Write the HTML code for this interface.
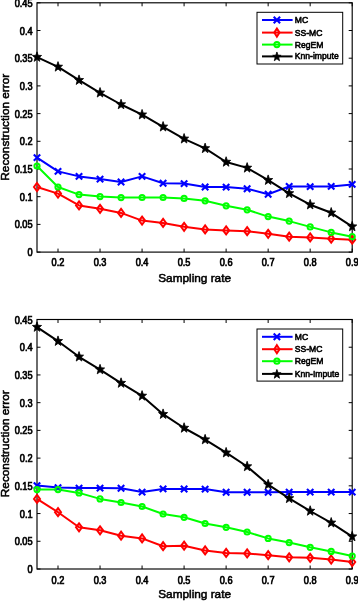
<!DOCTYPE html>
<html><head><meta charset="utf-8"><style>
html,body{margin:0;padding:0;background:#fff;}
body{width:358px;height:601px;overflow:hidden;}
svg{display:block;will-change:transform;}
text{font-family:"Liberation Sans",sans-serif;fill:#000;}
.tk{font-size:9.4px;font-weight:normal;stroke:#000;stroke-width:0.65px;}
.lab{font-size:11.8px;stroke:#000;stroke-width:0.55px;}
.leg{font-size:8.6px;font-weight:normal;stroke:#000;stroke-width:0.55px;}
</style></head><body>
<svg width="358" height="601" viewBox="0 0 358 601">
<rect width="358" height="601" fill="#fff"/>
<line x1="37.00" y1="252.10" x2="40.50" y2="252.10" stroke="#000" stroke-width="1"/>
<line x1="348.70" y1="252.10" x2="352.20" y2="252.10" stroke="#000" stroke-width="1"/>
<text transform="translate(32.60 256.10) scale(0.980 1.080)" text-anchor="end" class="tk">0</text>
<line x1="37.00" y1="224.40" x2="40.50" y2="224.40" stroke="#000" stroke-width="1"/>
<line x1="348.70" y1="224.40" x2="352.20" y2="224.40" stroke="#000" stroke-width="1"/>
<text transform="translate(32.60 228.40) scale(0.980 1.080)" text-anchor="end" class="tk">0.05</text>
<line x1="37.00" y1="196.70" x2="40.50" y2="196.70" stroke="#000" stroke-width="1"/>
<line x1="348.70" y1="196.70" x2="352.20" y2="196.70" stroke="#000" stroke-width="1"/>
<text transform="translate(32.60 200.70) scale(0.980 1.080)" text-anchor="end" class="tk">0.1</text>
<line x1="37.00" y1="169.00" x2="40.50" y2="169.00" stroke="#000" stroke-width="1"/>
<line x1="348.70" y1="169.00" x2="352.20" y2="169.00" stroke="#000" stroke-width="1"/>
<text transform="translate(32.60 173.00) scale(0.980 1.080)" text-anchor="end" class="tk">0.15</text>
<line x1="37.00" y1="141.30" x2="40.50" y2="141.30" stroke="#000" stroke-width="1"/>
<line x1="348.70" y1="141.30" x2="352.20" y2="141.30" stroke="#000" stroke-width="1"/>
<text transform="translate(32.60 145.30) scale(0.980 1.080)" text-anchor="end" class="tk">0.2</text>
<line x1="37.00" y1="113.60" x2="40.50" y2="113.60" stroke="#000" stroke-width="1"/>
<line x1="348.70" y1="113.60" x2="352.20" y2="113.60" stroke="#000" stroke-width="1"/>
<text transform="translate(32.60 117.60) scale(0.980 1.080)" text-anchor="end" class="tk">0.25</text>
<line x1="37.00" y1="85.90" x2="40.50" y2="85.90" stroke="#000" stroke-width="1"/>
<line x1="348.70" y1="85.90" x2="352.20" y2="85.90" stroke="#000" stroke-width="1"/>
<text transform="translate(32.60 89.90) scale(0.980 1.080)" text-anchor="end" class="tk">0.3</text>
<line x1="37.00" y1="58.20" x2="40.50" y2="58.20" stroke="#000" stroke-width="1"/>
<line x1="348.70" y1="58.20" x2="352.20" y2="58.20" stroke="#000" stroke-width="1"/>
<text transform="translate(32.60 62.20) scale(0.980 1.080)" text-anchor="end" class="tk">0.35</text>
<line x1="37.00" y1="30.50" x2="40.50" y2="30.50" stroke="#000" stroke-width="1"/>
<line x1="348.70" y1="30.50" x2="352.20" y2="30.50" stroke="#000" stroke-width="1"/>
<text transform="translate(32.60 34.50) scale(0.980 1.080)" text-anchor="end" class="tk">0.4</text>
<line x1="37.00" y1="2.80" x2="40.50" y2="2.80" stroke="#000" stroke-width="1"/>
<line x1="348.70" y1="2.80" x2="352.20" y2="2.80" stroke="#000" stroke-width="1"/>
<text transform="translate(32.60 6.80) scale(0.980 1.080)" text-anchor="end" class="tk">0.45</text>
<line x1="58.01" y1="252.10" x2="58.01" y2="248.60" stroke="#000" stroke-width="1"/>
<line x1="58.01" y1="2.80" x2="58.01" y2="6.30" stroke="#000" stroke-width="1"/>
<text transform="translate(58.01 266.40) scale(0.980 1.080)" text-anchor="middle" class="tk">0.2</text>
<line x1="100.04" y1="252.10" x2="100.04" y2="248.60" stroke="#000" stroke-width="1"/>
<line x1="100.04" y1="2.80" x2="100.04" y2="6.30" stroke="#000" stroke-width="1"/>
<text transform="translate(100.04 266.40) scale(0.980 1.080)" text-anchor="middle" class="tk">0.3</text>
<line x1="142.07" y1="252.10" x2="142.07" y2="248.60" stroke="#000" stroke-width="1"/>
<line x1="142.07" y1="2.80" x2="142.07" y2="6.30" stroke="#000" stroke-width="1"/>
<text transform="translate(142.07 266.40) scale(0.980 1.080)" text-anchor="middle" class="tk">0.4</text>
<line x1="184.09" y1="252.10" x2="184.09" y2="248.60" stroke="#000" stroke-width="1"/>
<line x1="184.09" y1="2.80" x2="184.09" y2="6.30" stroke="#000" stroke-width="1"/>
<text transform="translate(184.09 266.40) scale(0.980 1.080)" text-anchor="middle" class="tk">0.5</text>
<line x1="226.12" y1="252.10" x2="226.12" y2="248.60" stroke="#000" stroke-width="1"/>
<line x1="226.12" y1="2.80" x2="226.12" y2="6.30" stroke="#000" stroke-width="1"/>
<text transform="translate(226.12 266.40) scale(0.980 1.080)" text-anchor="middle" class="tk">0.6</text>
<line x1="268.15" y1="252.10" x2="268.15" y2="248.60" stroke="#000" stroke-width="1"/>
<line x1="268.15" y1="2.80" x2="268.15" y2="6.30" stroke="#000" stroke-width="1"/>
<text transform="translate(268.15 266.40) scale(0.980 1.080)" text-anchor="middle" class="tk">0.7</text>
<line x1="310.17" y1="252.10" x2="310.17" y2="248.60" stroke="#000" stroke-width="1"/>
<line x1="310.17" y1="2.80" x2="310.17" y2="6.30" stroke="#000" stroke-width="1"/>
<text transform="translate(310.17 266.40) scale(0.980 1.080)" text-anchor="middle" class="tk">0.8</text>
<line x1="352.20" y1="252.10" x2="352.20" y2="248.60" stroke="#000" stroke-width="1"/>
<line x1="352.20" y1="2.80" x2="352.20" y2="6.30" stroke="#000" stroke-width="1"/>
<text transform="translate(352.20 266.40) scale(0.980 1.080)" text-anchor="middle" class="tk">0.9</text>
<rect x="37.00" y="2.80" width="315.20" height="249.30" fill="none" stroke="#000" stroke-width="1.15"/>
<text transform="translate(194.60 281.60)" text-anchor="middle" class="lab">Sampling rate</text>
<text transform="translate(9.00 127.25) rotate(-90)" text-anchor="middle" class="lab">Reconstruction error</text>
<polyline points="37.00,157.60 58.01,171.40 79.03,176.40 100.04,179.10 121.05,182.00 142.07,176.40 163.08,183.20 184.09,183.60 205.11,187.00 226.12,187.10 247.13,188.80 268.15,194.20 289.16,186.40 310.17,186.60 331.19,186.40 352.20,184.40" stroke="#0000ff" stroke-width="2.00" fill="none" stroke-linejoin="round"/>
<polyline points="37.00,187.00 58.01,193.60 79.03,205.40 100.04,208.80 121.05,212.90 142.07,220.60 163.08,222.90 184.09,226.80 205.11,229.40 226.12,230.40 247.13,231.20 268.15,233.80 289.16,236.70 310.17,237.40 331.19,238.70 352.20,239.70" stroke="#ff0000" stroke-width="2.00" fill="none" stroke-linejoin="round"/>
<polyline points="37.00,166.00 58.01,187.00 79.03,194.60 100.04,196.60 121.05,197.60 142.07,197.50 163.08,197.50 184.09,198.40 205.11,200.80 226.12,205.80 247.13,209.80 268.15,216.60 289.16,221.10 310.17,226.90 331.19,232.40 352.20,236.70" stroke="#00ff00" stroke-width="2.00" fill="none" stroke-linejoin="round"/>
<polyline points="37.00,57.10 58.01,66.90 79.03,80.20 100.04,92.80 121.05,104.50 142.07,114.70 163.08,126.80 184.09,138.80 205.11,148.40 226.12,162.00 247.13,167.90 268.15,180.20 289.16,193.40 310.17,204.70 331.19,212.80 352.20,226.60" stroke="#000000" stroke-width="2.00" fill="none" stroke-linejoin="round"/>
<path d="M33.80 154.40L40.20 160.80M33.80 160.80L40.20 154.40" stroke="#0000ff" stroke-width="2.10" fill="none"/>
<path d="M54.81 168.20L61.21 174.60M54.81 174.60L61.21 168.20" stroke="#0000ff" stroke-width="2.10" fill="none"/>
<path d="M75.83 173.20L82.23 179.60M75.83 179.60L82.23 173.20" stroke="#0000ff" stroke-width="2.10" fill="none"/>
<path d="M96.84 175.90L103.24 182.30M96.84 182.30L103.24 175.90" stroke="#0000ff" stroke-width="2.10" fill="none"/>
<path d="M117.85 178.80L124.25 185.20M117.85 185.20L124.25 178.80" stroke="#0000ff" stroke-width="2.10" fill="none"/>
<path d="M138.87 173.20L145.27 179.60M138.87 179.60L145.27 173.20" stroke="#0000ff" stroke-width="2.10" fill="none"/>
<path d="M159.88 180.00L166.28 186.40M159.88 186.40L166.28 180.00" stroke="#0000ff" stroke-width="2.10" fill="none"/>
<path d="M180.89 180.40L187.29 186.80M180.89 186.80L187.29 180.40" stroke="#0000ff" stroke-width="2.10" fill="none"/>
<path d="M201.91 183.80L208.31 190.20M201.91 190.20L208.31 183.80" stroke="#0000ff" stroke-width="2.10" fill="none"/>
<path d="M222.92 183.90L229.32 190.30M222.92 190.30L229.32 183.90" stroke="#0000ff" stroke-width="2.10" fill="none"/>
<path d="M243.93 185.60L250.33 192.00M243.93 192.00L250.33 185.60" stroke="#0000ff" stroke-width="2.10" fill="none"/>
<path d="M264.95 191.00L271.35 197.40M264.95 197.40L271.35 191.00" stroke="#0000ff" stroke-width="2.10" fill="none"/>
<path d="M285.96 183.20L292.36 189.60M285.96 189.60L292.36 183.20" stroke="#0000ff" stroke-width="2.10" fill="none"/>
<path d="M306.97 183.40L313.37 189.80M306.97 189.80L313.37 183.40" stroke="#0000ff" stroke-width="2.10" fill="none"/>
<path d="M327.99 183.20L334.39 189.60M327.99 189.60L334.39 183.20" stroke="#0000ff" stroke-width="2.10" fill="none"/>
<path d="M349.00 181.20L355.40 187.60M349.00 187.60L355.40 181.20" stroke="#0000ff" stroke-width="2.10" fill="none"/>
<path d="M37.00 183.00L40.00 187.00L37.00 191.00L34.00 187.00Z" stroke="#ff0000" stroke-width="2.00" fill="none"/>
<path d="M58.01 189.60L61.01 193.60L58.01 197.60L55.01 193.60Z" stroke="#ff0000" stroke-width="2.00" fill="none"/>
<path d="M79.03 201.40L82.03 205.40L79.03 209.40L76.03 205.40Z" stroke="#ff0000" stroke-width="2.00" fill="none"/>
<path d="M100.04 204.80L103.04 208.80L100.04 212.80L97.04 208.80Z" stroke="#ff0000" stroke-width="2.00" fill="none"/>
<path d="M121.05 208.90L124.05 212.90L121.05 216.90L118.05 212.90Z" stroke="#ff0000" stroke-width="2.00" fill="none"/>
<path d="M142.07 216.60L145.07 220.60L142.07 224.60L139.07 220.60Z" stroke="#ff0000" stroke-width="2.00" fill="none"/>
<path d="M163.08 218.90L166.08 222.90L163.08 226.90L160.08 222.90Z" stroke="#ff0000" stroke-width="2.00" fill="none"/>
<path d="M184.09 222.80L187.09 226.80L184.09 230.80L181.09 226.80Z" stroke="#ff0000" stroke-width="2.00" fill="none"/>
<path d="M205.11 225.40L208.11 229.40L205.11 233.40L202.11 229.40Z" stroke="#ff0000" stroke-width="2.00" fill="none"/>
<path d="M226.12 226.40L229.12 230.40L226.12 234.40L223.12 230.40Z" stroke="#ff0000" stroke-width="2.00" fill="none"/>
<path d="M247.13 227.20L250.13 231.20L247.13 235.20L244.13 231.20Z" stroke="#ff0000" stroke-width="2.00" fill="none"/>
<path d="M268.15 229.80L271.15 233.80L268.15 237.80L265.15 233.80Z" stroke="#ff0000" stroke-width="2.00" fill="none"/>
<path d="M289.16 232.70L292.16 236.70L289.16 240.70L286.16 236.70Z" stroke="#ff0000" stroke-width="2.00" fill="none"/>
<path d="M310.17 233.40L313.17 237.40L310.17 241.40L307.17 237.40Z" stroke="#ff0000" stroke-width="2.00" fill="none"/>
<path d="M331.19 234.70L334.19 238.70L331.19 242.70L328.19 238.70Z" stroke="#ff0000" stroke-width="2.00" fill="none"/>
<path d="M352.20 235.70L355.20 239.70L352.20 243.70L349.20 239.70Z" stroke="#ff0000" stroke-width="2.00" fill="none"/>
<circle cx="37.00" cy="166.00" r="2.60" stroke="#00ff00" stroke-width="2.00" fill="none"/>
<circle cx="58.01" cy="187.00" r="2.60" stroke="#00ff00" stroke-width="2.00" fill="none"/>
<circle cx="79.03" cy="194.60" r="2.60" stroke="#00ff00" stroke-width="2.00" fill="none"/>
<circle cx="100.04" cy="196.60" r="2.60" stroke="#00ff00" stroke-width="2.00" fill="none"/>
<circle cx="121.05" cy="197.60" r="2.60" stroke="#00ff00" stroke-width="2.00" fill="none"/>
<circle cx="142.07" cy="197.50" r="2.60" stroke="#00ff00" stroke-width="2.00" fill="none"/>
<circle cx="163.08" cy="197.50" r="2.60" stroke="#00ff00" stroke-width="2.00" fill="none"/>
<circle cx="184.09" cy="198.40" r="2.60" stroke="#00ff00" stroke-width="2.00" fill="none"/>
<circle cx="205.11" cy="200.80" r="2.60" stroke="#00ff00" stroke-width="2.00" fill="none"/>
<circle cx="226.12" cy="205.80" r="2.60" stroke="#00ff00" stroke-width="2.00" fill="none"/>
<circle cx="247.13" cy="209.80" r="2.60" stroke="#00ff00" stroke-width="2.00" fill="none"/>
<circle cx="268.15" cy="216.60" r="2.60" stroke="#00ff00" stroke-width="2.00" fill="none"/>
<circle cx="289.16" cy="221.10" r="2.60" stroke="#00ff00" stroke-width="2.00" fill="none"/>
<circle cx="310.17" cy="226.90" r="2.60" stroke="#00ff00" stroke-width="2.00" fill="none"/>
<circle cx="331.19" cy="232.40" r="2.60" stroke="#00ff00" stroke-width="2.00" fill="none"/>
<circle cx="352.20" cy="236.70" r="2.60" stroke="#00ff00" stroke-width="2.00" fill="none"/>
<polygon points="37.00,51.82 38.18,55.31 41.57,55.47 38.92,57.79 39.82,61.37 37.00,59.32 34.18,61.37 35.08,57.79 32.43,55.47 35.82,55.31" fill="#000" stroke="#000" stroke-width="0.8" stroke-linejoin="miter"/>
<polygon points="58.01,61.62 59.20,65.11 62.58,65.27 59.93,67.59 60.83,71.17 58.01,69.12 55.19,71.17 56.10,67.59 53.45,65.27 56.83,65.11" fill="#000" stroke="#000" stroke-width="0.8" stroke-linejoin="miter"/>
<polygon points="79.03,74.92 80.21,78.41 83.59,78.57 80.94,80.89 81.85,84.47 79.03,82.42 76.21,84.47 77.11,80.89 74.46,78.57 77.84,78.41" fill="#000" stroke="#000" stroke-width="0.8" stroke-linejoin="miter"/>
<polygon points="100.04,87.52 101.22,91.01 104.61,91.17 101.96,93.49 102.86,97.07 100.04,95.02 97.22,97.07 98.12,93.49 95.47,91.17 98.86,91.01" fill="#000" stroke="#000" stroke-width="0.8" stroke-linejoin="miter"/>
<polygon points="121.05,99.22 122.24,102.71 125.62,102.87 122.97,105.19 123.87,108.77 121.05,106.72 118.23,108.77 119.14,105.19 116.49,102.87 119.87,102.71" fill="#000" stroke="#000" stroke-width="0.8" stroke-linejoin="miter"/>
<polygon points="142.07,109.42 143.25,112.91 146.63,113.07 143.98,115.39 144.89,118.97 142.07,116.92 139.25,118.97 140.15,115.39 137.50,113.07 140.88,112.91" fill="#000" stroke="#000" stroke-width="0.8" stroke-linejoin="miter"/>
<polygon points="163.08,121.52 164.26,125.01 167.65,125.17 165.00,127.49 165.90,131.07 163.08,129.02 160.26,131.07 161.16,127.49 158.51,125.17 161.90,125.01" fill="#000" stroke="#000" stroke-width="0.8" stroke-linejoin="miter"/>
<polygon points="184.09,133.52 185.28,137.01 188.66,137.17 186.01,139.49 186.91,143.07 184.09,141.02 181.27,143.07 182.18,139.49 179.53,137.17 182.91,137.01" fill="#000" stroke="#000" stroke-width="0.8" stroke-linejoin="miter"/>
<polygon points="205.11,143.12 206.29,146.61 209.67,146.77 207.02,149.09 207.93,152.67 205.11,150.62 202.29,152.67 203.19,149.09 200.54,146.77 203.92,146.61" fill="#000" stroke="#000" stroke-width="0.8" stroke-linejoin="miter"/>
<polygon points="226.12,156.72 227.30,160.21 230.69,160.37 228.04,162.69 228.94,166.27 226.12,164.22 223.30,166.27 224.20,162.69 221.55,160.37 224.94,160.21" fill="#000" stroke="#000" stroke-width="0.8" stroke-linejoin="miter"/>
<polygon points="247.13,162.62 248.32,166.11 251.70,166.27 249.05,168.59 249.95,172.17 247.13,170.12 244.31,172.17 245.22,168.59 242.57,166.27 245.95,166.11" fill="#000" stroke="#000" stroke-width="0.8" stroke-linejoin="miter"/>
<polygon points="268.15,174.92 269.33,178.41 272.71,178.57 270.06,180.89 270.97,184.47 268.15,182.42 265.33,184.47 266.23,180.89 263.58,178.57 266.96,178.41" fill="#000" stroke="#000" stroke-width="0.8" stroke-linejoin="miter"/>
<polygon points="289.16,188.12 290.34,191.61 293.73,191.77 291.08,194.09 291.98,197.67 289.16,195.62 286.34,197.67 287.24,194.09 284.59,191.77 287.98,191.61" fill="#000" stroke="#000" stroke-width="0.8" stroke-linejoin="miter"/>
<polygon points="310.17,199.42 311.36,202.91 314.74,203.07 312.09,205.39 312.99,208.97 310.17,206.92 307.35,208.97 308.26,205.39 305.61,203.07 308.99,202.91" fill="#000" stroke="#000" stroke-width="0.8" stroke-linejoin="miter"/>
<polygon points="331.19,207.52 332.37,211.01 335.75,211.17 333.10,213.49 334.01,217.07 331.19,215.02 328.37,217.07 329.27,213.49 326.62,211.17 330.00,211.01" fill="#000" stroke="#000" stroke-width="0.8" stroke-linejoin="miter"/>
<polygon points="352.20,221.32 353.38,224.81 356.77,224.97 354.12,227.29 355.02,230.87 352.20,228.82 349.38,230.87 350.28,227.29 347.63,224.97 351.02,224.81" fill="#000" stroke="#000" stroke-width="0.8" stroke-linejoin="miter"/>
<rect x="257.00" y="12.30" width="85.70" height="51.70" fill="#fff" stroke="#000" stroke-width="1"/>
<line x1="262" y1="20.00" x2="292.6" y2="20.00" stroke="#0000ff" stroke-width="2.00"/>
<path d="M273.70 16.80L280.10 23.20M273.70 23.20L280.10 16.80" stroke="#0000ff" stroke-width="2.10" fill="none"/>
<text transform="translate(294.80 23.00) scale(1.000 1.100)" class="leg">MC</text>
<line x1="262" y1="32.60" x2="292.6" y2="32.60" stroke="#ff0000" stroke-width="2.00"/>
<path d="M276.90 28.60L279.50 32.60L276.90 36.60L274.30 32.60Z" stroke="#ff0000" stroke-width="2.00" fill="none"/>
<text transform="translate(294.80 35.60) scale(1.000 1.100)" class="leg">SS-MC</text>
<line x1="262" y1="44.60" x2="292.6" y2="44.60" stroke="#00ff00" stroke-width="2.00"/>
<circle cx="276.90" cy="44.60" r="2.60" stroke="#00ff00" stroke-width="2.00" fill="none"/>
<text transform="translate(294.80 47.60) scale(1.000 1.100)" class="leg">RegEM</text>
<line x1="262" y1="56.40" x2="292.6" y2="56.40" stroke="#000000" stroke-width="2.00"/>
<polygon points="276.90,51.96 277.99,55.16 281.08,55.30 278.66,57.43 279.49,60.72 276.90,58.83 274.31,60.72 275.14,57.43 272.72,55.30 275.81,55.16" fill="#000" stroke="#000" stroke-width="0.8" stroke-linejoin="miter"/>
<text transform="translate(294.80 59.40) scale(1.000 1.100)" class="leg">Knn-impute</text>
<line x1="37.00" y1="569.00" x2="40.50" y2="569.00" stroke="#000" stroke-width="1"/>
<line x1="348.70" y1="569.00" x2="352.20" y2="569.00" stroke="#000" stroke-width="1"/>
<text transform="translate(32.60 573.00) scale(0.980 1.080)" text-anchor="end" class="tk">0</text>
<line x1="37.00" y1="541.28" x2="40.50" y2="541.28" stroke="#000" stroke-width="1"/>
<line x1="348.70" y1="541.28" x2="352.20" y2="541.28" stroke="#000" stroke-width="1"/>
<text transform="translate(32.60 545.28) scale(0.980 1.080)" text-anchor="end" class="tk">0.05</text>
<line x1="37.00" y1="513.56" x2="40.50" y2="513.56" stroke="#000" stroke-width="1"/>
<line x1="348.70" y1="513.56" x2="352.20" y2="513.56" stroke="#000" stroke-width="1"/>
<text transform="translate(32.60 517.56) scale(0.980 1.080)" text-anchor="end" class="tk">0.1</text>
<line x1="37.00" y1="485.83" x2="40.50" y2="485.83" stroke="#000" stroke-width="1"/>
<line x1="348.70" y1="485.83" x2="352.20" y2="485.83" stroke="#000" stroke-width="1"/>
<text transform="translate(32.60 489.83) scale(0.980 1.080)" text-anchor="end" class="tk">0.15</text>
<line x1="37.00" y1="458.11" x2="40.50" y2="458.11" stroke="#000" stroke-width="1"/>
<line x1="348.70" y1="458.11" x2="352.20" y2="458.11" stroke="#000" stroke-width="1"/>
<text transform="translate(32.60 462.11) scale(0.980 1.080)" text-anchor="end" class="tk">0.2</text>
<line x1="37.00" y1="430.39" x2="40.50" y2="430.39" stroke="#000" stroke-width="1"/>
<line x1="348.70" y1="430.39" x2="352.20" y2="430.39" stroke="#000" stroke-width="1"/>
<text transform="translate(32.60 434.39) scale(0.980 1.080)" text-anchor="end" class="tk">0.25</text>
<line x1="37.00" y1="402.67" x2="40.50" y2="402.67" stroke="#000" stroke-width="1"/>
<line x1="348.70" y1="402.67" x2="352.20" y2="402.67" stroke="#000" stroke-width="1"/>
<text transform="translate(32.60 406.67) scale(0.980 1.080)" text-anchor="end" class="tk">0.3</text>
<line x1="37.00" y1="374.94" x2="40.50" y2="374.94" stroke="#000" stroke-width="1"/>
<line x1="348.70" y1="374.94" x2="352.20" y2="374.94" stroke="#000" stroke-width="1"/>
<text transform="translate(32.60 378.94) scale(0.980 1.080)" text-anchor="end" class="tk">0.35</text>
<line x1="37.00" y1="347.22" x2="40.50" y2="347.22" stroke="#000" stroke-width="1"/>
<line x1="348.70" y1="347.22" x2="352.20" y2="347.22" stroke="#000" stroke-width="1"/>
<text transform="translate(32.60 351.22) scale(0.980 1.080)" text-anchor="end" class="tk">0.4</text>
<line x1="37.00" y1="319.50" x2="40.50" y2="319.50" stroke="#000" stroke-width="1"/>
<line x1="348.70" y1="319.50" x2="352.20" y2="319.50" stroke="#000" stroke-width="1"/>
<text transform="translate(32.60 323.50) scale(0.980 1.080)" text-anchor="end" class="tk">0.45</text>
<line x1="58.01" y1="569.00" x2="58.01" y2="565.50" stroke="#000" stroke-width="1"/>
<line x1="58.01" y1="319.50" x2="58.01" y2="323.00" stroke="#000" stroke-width="1"/>
<text transform="translate(58.01 583.80) scale(0.980 1.080)" text-anchor="middle" class="tk">0.2</text>
<line x1="100.04" y1="569.00" x2="100.04" y2="565.50" stroke="#000" stroke-width="1"/>
<line x1="100.04" y1="319.50" x2="100.04" y2="323.00" stroke="#000" stroke-width="1"/>
<text transform="translate(100.04 583.80) scale(0.980 1.080)" text-anchor="middle" class="tk">0.3</text>
<line x1="142.07" y1="569.00" x2="142.07" y2="565.50" stroke="#000" stroke-width="1"/>
<line x1="142.07" y1="319.50" x2="142.07" y2="323.00" stroke="#000" stroke-width="1"/>
<text transform="translate(142.07 583.80) scale(0.980 1.080)" text-anchor="middle" class="tk">0.4</text>
<line x1="184.09" y1="569.00" x2="184.09" y2="565.50" stroke="#000" stroke-width="1"/>
<line x1="184.09" y1="319.50" x2="184.09" y2="323.00" stroke="#000" stroke-width="1"/>
<text transform="translate(184.09 583.80) scale(0.980 1.080)" text-anchor="middle" class="tk">0.5</text>
<line x1="226.12" y1="569.00" x2="226.12" y2="565.50" stroke="#000" stroke-width="1"/>
<line x1="226.12" y1="319.50" x2="226.12" y2="323.00" stroke="#000" stroke-width="1"/>
<text transform="translate(226.12 583.80) scale(0.980 1.080)" text-anchor="middle" class="tk">0.6</text>
<line x1="268.15" y1="569.00" x2="268.15" y2="565.50" stroke="#000" stroke-width="1"/>
<line x1="268.15" y1="319.50" x2="268.15" y2="323.00" stroke="#000" stroke-width="1"/>
<text transform="translate(268.15 583.80) scale(0.980 1.080)" text-anchor="middle" class="tk">0.7</text>
<line x1="310.17" y1="569.00" x2="310.17" y2="565.50" stroke="#000" stroke-width="1"/>
<line x1="310.17" y1="319.50" x2="310.17" y2="323.00" stroke="#000" stroke-width="1"/>
<text transform="translate(310.17 583.80) scale(0.980 1.080)" text-anchor="middle" class="tk">0.8</text>
<line x1="352.20" y1="569.00" x2="352.20" y2="565.50" stroke="#000" stroke-width="1"/>
<line x1="352.20" y1="319.50" x2="352.20" y2="323.00" stroke="#000" stroke-width="1"/>
<text transform="translate(352.20 583.80) scale(0.980 1.080)" text-anchor="middle" class="tk">0.9</text>
<rect x="37.00" y="319.50" width="315.20" height="249.50" fill="none" stroke="#000" stroke-width="1.15"/>
<text transform="translate(194.60 598.30)" text-anchor="middle" class="lab">Sampling rate</text>
<text transform="translate(9.00 443.75) rotate(-90)" text-anchor="middle" class="lab">Reconstruction error</text>
<polyline points="37.00,485.60 58.01,487.60 79.03,488.10 100.04,488.10 121.05,488.30 142.07,492.10 163.08,488.90 184.09,489.00 205.11,489.10 226.12,492.20 247.13,492.20 268.15,492.20 289.16,492.10 310.17,492.10 331.19,492.10 352.20,492.10" stroke="#0000ff" stroke-width="2.00" fill="none" stroke-linejoin="round"/>
<polyline points="37.00,498.90 58.01,512.20 79.03,527.30 100.04,530.30 121.05,535.70 142.07,538.40 163.08,546.20 184.09,545.70 205.11,550.40 226.12,552.90 247.13,553.40 268.15,555.20 289.16,557.30 310.17,557.80 331.19,559.50 352.20,562.00" stroke="#ff0000" stroke-width="2.00" fill="none" stroke-linejoin="round"/>
<polyline points="37.00,489.60 58.01,489.60 79.03,492.90 100.04,498.90 121.05,502.50 142.07,506.50 163.08,514.00 184.09,517.30 205.11,523.50 226.12,527.30 247.13,532.00 268.15,538.40 289.16,542.60 310.17,547.30 331.19,551.40 352.20,556.10" stroke="#00ff00" stroke-width="2.00" fill="none" stroke-linejoin="round"/>
<polyline points="37.00,327.10 58.01,341.20 79.03,356.80 100.04,369.60 121.05,383.10 142.07,395.90 163.08,414.20 184.09,428.00 205.11,439.60 226.12,452.70 247.13,466.50 268.15,484.60 289.16,498.40 310.17,511.00 331.19,522.80 352.20,536.60" stroke="#000000" stroke-width="2.00" fill="none" stroke-linejoin="round"/>
<path d="M33.80 482.40L40.20 488.80M33.80 488.80L40.20 482.40" stroke="#0000ff" stroke-width="2.10" fill="none"/>
<path d="M54.81 484.40L61.21 490.80M54.81 490.80L61.21 484.40" stroke="#0000ff" stroke-width="2.10" fill="none"/>
<path d="M75.83 484.90L82.23 491.30M75.83 491.30L82.23 484.90" stroke="#0000ff" stroke-width="2.10" fill="none"/>
<path d="M96.84 484.90L103.24 491.30M96.84 491.30L103.24 484.90" stroke="#0000ff" stroke-width="2.10" fill="none"/>
<path d="M117.85 485.10L124.25 491.50M117.85 491.50L124.25 485.10" stroke="#0000ff" stroke-width="2.10" fill="none"/>
<path d="M138.87 488.90L145.27 495.30M138.87 495.30L145.27 488.90" stroke="#0000ff" stroke-width="2.10" fill="none"/>
<path d="M159.88 485.70L166.28 492.10M159.88 492.10L166.28 485.70" stroke="#0000ff" stroke-width="2.10" fill="none"/>
<path d="M180.89 485.80L187.29 492.20M180.89 492.20L187.29 485.80" stroke="#0000ff" stroke-width="2.10" fill="none"/>
<path d="M201.91 485.90L208.31 492.30M201.91 492.30L208.31 485.90" stroke="#0000ff" stroke-width="2.10" fill="none"/>
<path d="M222.92 489.00L229.32 495.40M222.92 495.40L229.32 489.00" stroke="#0000ff" stroke-width="2.10" fill="none"/>
<path d="M243.93 489.00L250.33 495.40M243.93 495.40L250.33 489.00" stroke="#0000ff" stroke-width="2.10" fill="none"/>
<path d="M264.95 489.00L271.35 495.40M264.95 495.40L271.35 489.00" stroke="#0000ff" stroke-width="2.10" fill="none"/>
<path d="M285.96 488.90L292.36 495.30M285.96 495.30L292.36 488.90" stroke="#0000ff" stroke-width="2.10" fill="none"/>
<path d="M306.97 488.90L313.37 495.30M306.97 495.30L313.37 488.90" stroke="#0000ff" stroke-width="2.10" fill="none"/>
<path d="M327.99 488.90L334.39 495.30M327.99 495.30L334.39 488.90" stroke="#0000ff" stroke-width="2.10" fill="none"/>
<path d="M349.00 488.90L355.40 495.30M349.00 495.30L355.40 488.90" stroke="#0000ff" stroke-width="2.10" fill="none"/>
<path d="M37.00 494.90L40.00 498.90L37.00 502.90L34.00 498.90Z" stroke="#ff0000" stroke-width="2.00" fill="none"/>
<path d="M58.01 508.20L61.01 512.20L58.01 516.20L55.01 512.20Z" stroke="#ff0000" stroke-width="2.00" fill="none"/>
<path d="M79.03 523.30L82.03 527.30L79.03 531.30L76.03 527.30Z" stroke="#ff0000" stroke-width="2.00" fill="none"/>
<path d="M100.04 526.30L103.04 530.30L100.04 534.30L97.04 530.30Z" stroke="#ff0000" stroke-width="2.00" fill="none"/>
<path d="M121.05 531.70L124.05 535.70L121.05 539.70L118.05 535.70Z" stroke="#ff0000" stroke-width="2.00" fill="none"/>
<path d="M142.07 534.40L145.07 538.40L142.07 542.40L139.07 538.40Z" stroke="#ff0000" stroke-width="2.00" fill="none"/>
<path d="M163.08 542.20L166.08 546.20L163.08 550.20L160.08 546.20Z" stroke="#ff0000" stroke-width="2.00" fill="none"/>
<path d="M184.09 541.70L187.09 545.70L184.09 549.70L181.09 545.70Z" stroke="#ff0000" stroke-width="2.00" fill="none"/>
<path d="M205.11 546.40L208.11 550.40L205.11 554.40L202.11 550.40Z" stroke="#ff0000" stroke-width="2.00" fill="none"/>
<path d="M226.12 548.90L229.12 552.90L226.12 556.90L223.12 552.90Z" stroke="#ff0000" stroke-width="2.00" fill="none"/>
<path d="M247.13 549.40L250.13 553.40L247.13 557.40L244.13 553.40Z" stroke="#ff0000" stroke-width="2.00" fill="none"/>
<path d="M268.15 551.20L271.15 555.20L268.15 559.20L265.15 555.20Z" stroke="#ff0000" stroke-width="2.00" fill="none"/>
<path d="M289.16 553.30L292.16 557.30L289.16 561.30L286.16 557.30Z" stroke="#ff0000" stroke-width="2.00" fill="none"/>
<path d="M310.17 553.80L313.17 557.80L310.17 561.80L307.17 557.80Z" stroke="#ff0000" stroke-width="2.00" fill="none"/>
<path d="M331.19 555.50L334.19 559.50L331.19 563.50L328.19 559.50Z" stroke="#ff0000" stroke-width="2.00" fill="none"/>
<path d="M352.20 558.00L355.20 562.00L352.20 566.00L349.20 562.00Z" stroke="#ff0000" stroke-width="2.00" fill="none"/>
<circle cx="37.00" cy="489.60" r="2.60" stroke="#00ff00" stroke-width="2.00" fill="none"/>
<circle cx="58.01" cy="489.60" r="2.60" stroke="#00ff00" stroke-width="2.00" fill="none"/>
<circle cx="79.03" cy="492.90" r="2.60" stroke="#00ff00" stroke-width="2.00" fill="none"/>
<circle cx="100.04" cy="498.90" r="2.60" stroke="#00ff00" stroke-width="2.00" fill="none"/>
<circle cx="121.05" cy="502.50" r="2.60" stroke="#00ff00" stroke-width="2.00" fill="none"/>
<circle cx="142.07" cy="506.50" r="2.60" stroke="#00ff00" stroke-width="2.00" fill="none"/>
<circle cx="163.08" cy="514.00" r="2.60" stroke="#00ff00" stroke-width="2.00" fill="none"/>
<circle cx="184.09" cy="517.30" r="2.60" stroke="#00ff00" stroke-width="2.00" fill="none"/>
<circle cx="205.11" cy="523.50" r="2.60" stroke="#00ff00" stroke-width="2.00" fill="none"/>
<circle cx="226.12" cy="527.30" r="2.60" stroke="#00ff00" stroke-width="2.00" fill="none"/>
<circle cx="247.13" cy="532.00" r="2.60" stroke="#00ff00" stroke-width="2.00" fill="none"/>
<circle cx="268.15" cy="538.40" r="2.60" stroke="#00ff00" stroke-width="2.00" fill="none"/>
<circle cx="289.16" cy="542.60" r="2.60" stroke="#00ff00" stroke-width="2.00" fill="none"/>
<circle cx="310.17" cy="547.30" r="2.60" stroke="#00ff00" stroke-width="2.00" fill="none"/>
<circle cx="331.19" cy="551.40" r="2.60" stroke="#00ff00" stroke-width="2.00" fill="none"/>
<circle cx="352.20" cy="556.10" r="2.60" stroke="#00ff00" stroke-width="2.00" fill="none"/>
<polygon points="37.00,321.82 38.18,325.31 41.57,325.47 38.92,327.79 39.82,331.37 37.00,329.32 34.18,331.37 35.08,327.79 32.43,325.47 35.82,325.31" fill="#000" stroke="#000" stroke-width="0.8" stroke-linejoin="miter"/>
<polygon points="58.01,335.92 59.20,339.41 62.58,339.57 59.93,341.89 60.83,345.47 58.01,343.42 55.19,345.47 56.10,341.89 53.45,339.57 56.83,339.41" fill="#000" stroke="#000" stroke-width="0.8" stroke-linejoin="miter"/>
<polygon points="79.03,351.52 80.21,355.01 83.59,355.17 80.94,357.49 81.85,361.07 79.03,359.02 76.21,361.07 77.11,357.49 74.46,355.17 77.84,355.01" fill="#000" stroke="#000" stroke-width="0.8" stroke-linejoin="miter"/>
<polygon points="100.04,364.32 101.22,367.81 104.61,367.97 101.96,370.29 102.86,373.87 100.04,371.82 97.22,373.87 98.12,370.29 95.47,367.97 98.86,367.81" fill="#000" stroke="#000" stroke-width="0.8" stroke-linejoin="miter"/>
<polygon points="121.05,377.82 122.24,381.31 125.62,381.47 122.97,383.79 123.87,387.37 121.05,385.32 118.23,387.37 119.14,383.79 116.49,381.47 119.87,381.31" fill="#000" stroke="#000" stroke-width="0.8" stroke-linejoin="miter"/>
<polygon points="142.07,390.62 143.25,394.11 146.63,394.27 143.98,396.59 144.89,400.17 142.07,398.12 139.25,400.17 140.15,396.59 137.50,394.27 140.88,394.11" fill="#000" stroke="#000" stroke-width="0.8" stroke-linejoin="miter"/>
<polygon points="163.08,408.92 164.26,412.41 167.65,412.57 165.00,414.89 165.90,418.47 163.08,416.42 160.26,418.47 161.16,414.89 158.51,412.57 161.90,412.41" fill="#000" stroke="#000" stroke-width="0.8" stroke-linejoin="miter"/>
<polygon points="184.09,422.72 185.28,426.21 188.66,426.37 186.01,428.69 186.91,432.27 184.09,430.22 181.27,432.27 182.18,428.69 179.53,426.37 182.91,426.21" fill="#000" stroke="#000" stroke-width="0.8" stroke-linejoin="miter"/>
<polygon points="205.11,434.32 206.29,437.81 209.67,437.97 207.02,440.29 207.93,443.87 205.11,441.82 202.29,443.87 203.19,440.29 200.54,437.97 203.92,437.81" fill="#000" stroke="#000" stroke-width="0.8" stroke-linejoin="miter"/>
<polygon points="226.12,447.42 227.30,450.91 230.69,451.07 228.04,453.39 228.94,456.97 226.12,454.92 223.30,456.97 224.20,453.39 221.55,451.07 224.94,450.91" fill="#000" stroke="#000" stroke-width="0.8" stroke-linejoin="miter"/>
<polygon points="247.13,461.22 248.32,464.71 251.70,464.87 249.05,467.19 249.95,470.77 247.13,468.72 244.31,470.77 245.22,467.19 242.57,464.87 245.95,464.71" fill="#000" stroke="#000" stroke-width="0.8" stroke-linejoin="miter"/>
<polygon points="268.15,479.32 269.33,482.81 272.71,482.97 270.06,485.29 270.97,488.87 268.15,486.82 265.33,488.87 266.23,485.29 263.58,482.97 266.96,482.81" fill="#000" stroke="#000" stroke-width="0.8" stroke-linejoin="miter"/>
<polygon points="289.16,493.12 290.34,496.61 293.73,496.77 291.08,499.09 291.98,502.67 289.16,500.62 286.34,502.67 287.24,499.09 284.59,496.77 287.98,496.61" fill="#000" stroke="#000" stroke-width="0.8" stroke-linejoin="miter"/>
<polygon points="310.17,505.72 311.36,509.21 314.74,509.37 312.09,511.69 312.99,515.27 310.17,513.22 307.35,515.27 308.26,511.69 305.61,509.37 308.99,509.21" fill="#000" stroke="#000" stroke-width="0.8" stroke-linejoin="miter"/>
<polygon points="331.19,517.52 332.37,521.01 335.75,521.17 333.10,523.49 334.01,527.07 331.19,525.02 328.37,527.07 329.27,523.49 326.62,521.17 330.00,521.01" fill="#000" stroke="#000" stroke-width="0.8" stroke-linejoin="miter"/>
<polygon points="352.20,531.32 353.38,534.81 356.77,534.97 354.12,537.29 355.02,540.87 352.20,538.82 349.38,540.87 350.28,537.29 347.63,534.97 351.02,534.81" fill="#000" stroke="#000" stroke-width="0.8" stroke-linejoin="miter"/>
<rect x="257.00" y="329.00" width="85.70" height="52.10" fill="#fff" stroke="#000" stroke-width="1"/>
<line x1="262" y1="336.80" x2="292.6" y2="336.80" stroke="#0000ff" stroke-width="2.00"/>
<path d="M273.70 333.60L280.10 340.00M273.70 340.00L280.10 333.60" stroke="#0000ff" stroke-width="2.10" fill="none"/>
<text transform="translate(294.80 339.80) scale(1.000 1.100)" class="leg">MC</text>
<line x1="262" y1="349.20" x2="292.6" y2="349.20" stroke="#ff0000" stroke-width="2.00"/>
<path d="M276.90 345.20L279.50 349.20L276.90 353.20L274.30 349.20Z" stroke="#ff0000" stroke-width="2.00" fill="none"/>
<text transform="translate(294.80 352.20) scale(1.000 1.100)" class="leg">SS-MC</text>
<line x1="262" y1="361.20" x2="292.6" y2="361.20" stroke="#00ff00" stroke-width="2.00"/>
<circle cx="276.90" cy="361.20" r="2.60" stroke="#00ff00" stroke-width="2.00" fill="none"/>
<text transform="translate(294.80 364.20) scale(1.000 1.100)" class="leg">RegEM</text>
<line x1="262" y1="373.90" x2="292.6" y2="373.90" stroke="#000000" stroke-width="2.00"/>
<polygon points="276.90,369.46 277.99,372.66 281.08,372.80 278.66,374.93 279.49,378.22 276.90,376.33 274.31,378.22 275.14,374.93 272.72,372.80 275.81,372.66" fill="#000" stroke="#000" stroke-width="0.8" stroke-linejoin="miter"/>
<text transform="translate(294.80 376.90) scale(1.000 1.100)" class="leg">Knn-Impute</text>
</svg>
</body></html>
